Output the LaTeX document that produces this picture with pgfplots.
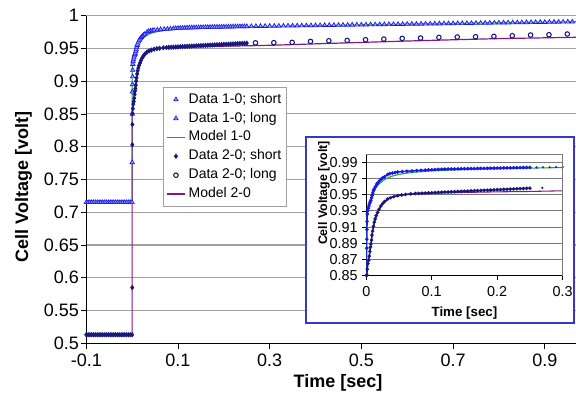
\documentclass[border=0pt]{standalone}
\usepackage{pgfplots}
\pgfplotsset{compat=1.18}
\usepackage{pgfplotstable}
\usepackage{fontspec}
\setmainfont{Liberation Sans}
\definecolor{dA}{RGB}{25,25,235}
\definecolor{dB}{RGB}{25,25,125}
\definecolor{mgreen}{RGB}{20,170,40}
\definecolor{mpurple}{RGB}{140,20,130}
\definecolor{frm}{RGB}{55,55,200}
\definecolor{gridc}{RGB}{160,160,160}
\definecolor{gridi}{RGB}{120,120,120}
\pgfplotsset{
  markleg/.style={legend image code/.code={\draw[##1] plot coordinates {(7pt,0pt)};}},
  gleg/.style={legend image code/.code={\draw[mgreen, line width=1.1pt] (0pt,0pt) -- (14pt,0pt);}},
  pleg/.style={legend image code/.code={\draw[mpurple, line width=1.1pt] (0pt,0pt) -- (14pt,0pt);}},
}

% Data 1-0; short
\pgfplotstableread{
t v
-0.100 0.715
-0.096 0.715
-0.092 0.715
-0.088 0.715
-0.084 0.715
-0.080 0.715
-0.076 0.715
-0.072 0.715
-0.068 0.715
-0.064 0.715
-0.060 0.715
-0.056 0.715
-0.052 0.715
-0.048 0.715
-0.044 0.715
-0.040 0.715
-0.036 0.715
-0.032 0.715
-0.028 0.715
-0.024 0.715
-0.020 0.715
-0.016 0.715
-0.012 0.715
-0.008 0.715
-0.004 0.715
0.0000 0.715
0.0002 0.776
0.0004 0.850
0.0006 0.884
0.0008 0.895
0.0010 0.907
0.0013 0.917
0.0016 0.926
0.0020 0.930
0.0030 0.933
0.0040 0.936
0.0050 0.939
0.0060 0.941
0.0070 0.943
0.0080 0.946
0.0090 0.949
0.0100 0.952
0.0110 0.955
0.0120 0.957
0.0140 0.960
0.0160 0.963
0.0180 0.965
0.0200 0.967
0.0224 0.969
0.0250 0.9705
0.0280 0.972
0.0326 0.975
0.0360 0.976
0.0400 0.9767
0.0440 0.9773
0.0480 0.978
0.0550 0.9785
0.0620 0.979
0.0700 0.9794
0.0770 0.9797
0.0835 0.980
0.0900 0.9803
0.0950 0.9806
0.1000 0.9808
0.1050 0.9810
0.1100 0.9812
0.1150 0.9814
0.1200 0.9816
0.1250 0.9817
0.1300 0.9817
0.1350 0.9818
0.1400 0.9819
0.1450 0.9820
0.1500 0.9821
0.1550 0.9821
0.1600 0.9822
0.1650 0.9823
0.1700 0.9824
0.1750 0.9825
0.1800 0.9825
0.1850 0.9826
0.1900 0.9827
0.1950 0.9828
0.2000 0.9829
0.2050 0.9829
0.2100 0.9830
0.2150 0.9831
0.2200 0.9832
0.2250 0.9833
0.2300 0.9833
0.2350 0.9834
0.2400 0.9835
0.2450 0.9835
0.2500 0.9836
}\dAshort

% Data 1-0; long
\pgfplotstableread{
t v
0.26 0.9837
0.27 0.9838
0.28 0.9839
0.29 0.9840
0.30 0.9841
0.31 0.9842
0.32 0.9843
0.33 0.9844
0.34 0.9845
0.35 0.9846
0.36 0.9847
0.37 0.9848
0.38 0.9849
0.39 0.9850
0.40 0.9851
0.41 0.9852
0.42 0.9853
0.43 0.9854
0.44 0.9855
0.45 0.9856
0.46 0.9857
0.47 0.9858
0.48 0.9859
0.49 0.9860
0.50 0.9861
0.51 0.9862
0.52 0.9863
0.53 0.9864
0.54 0.9865
0.55 0.9866
0.56 0.9867
0.57 0.9868
0.58 0.9869
0.59 0.9870
0.60 0.9871
0.61 0.9872
0.62 0.9873
0.63 0.9874
0.64 0.9875
0.65 0.9876
0.66 0.9877
0.67 0.9878
0.68 0.9879
0.69 0.9880
0.70 0.9881
0.71 0.9882
0.72 0.9883
0.73 0.9884
0.74 0.9885
0.75 0.9886
0.76 0.9887
0.77 0.9888
0.78 0.9889
0.79 0.9890
0.80 0.9891
0.81 0.9892
0.82 0.9893
0.83 0.9894
0.84 0.9895
0.85 0.9896
0.86 0.9897
0.87 0.9898
0.88 0.9899
0.89 0.9900
0.90 0.9901
0.91 0.9902
0.92 0.9903
0.93 0.9904
0.94 0.9905
0.95 0.9906
0.96 0.9907
0.97 0.9908
}\dAlong

% Model 1-0
\pgfplotstableread{
t v
-0.100 0.715
0.000 0.715
0.000 0.918
0.002 0.926
0.004 0.934
0.006 0.940
0.008 0.946
0.010 0.951
0.013 0.956
0.016 0.960
0.020 0.9635
0.025 0.967
0.030 0.9695
0.035 0.9715
0.040 0.973
0.050 0.975
0.070 0.9775
0.100 0.9795
0.150 0.981
0.200 0.982
0.250 0.9828
0.300 0.9835
0.400 0.9848
0.500 0.986
0.600 0.9872
0.700 0.9883
0.800 0.9893
0.900 0.9902
0.968 0.9907
}\mAtab

% Data 2-0; short
\pgfplotstableread{
t v
-0.100 0.513
-0.096 0.513
-0.092 0.513
-0.088 0.513
-0.084 0.513
-0.080 0.513
-0.076 0.513
-0.072 0.513
-0.068 0.513
-0.064 0.513
-0.060 0.513
-0.056 0.513
-0.052 0.513
-0.048 0.513
-0.044 0.513
-0.040 0.513
-0.036 0.513
-0.032 0.513
-0.028 0.513
-0.024 0.513
-0.020 0.513
-0.016 0.513
-0.012 0.513
-0.008 0.513
-0.004 0.513
0.0000 0.513
0.0002 0.585
0.0004 0.803
0.0006 0.834
0.0008 0.851
0.0015 0.858
0.0025 0.865
0.0035 0.869
0.0046 0.874
0.0055 0.880
0.0063 0.885
0.0071 0.889
0.0080 0.894
0.0088 0.900
0.0097 0.905
0.0110 0.911
0.0122 0.916
0.0135 0.920
0.0150 0.924
0.0173 0.928
0.0195 0.932
0.0224 0.936
0.0250 0.939
0.0280 0.9415
0.0326 0.9446
0.0370 0.9462
0.0420 0.9475
0.0480 0.9488
0.0540 0.9497
0.0600 0.9503
0.0680 0.9510
0.0750 0.9514
0.0800 0.9516
0.0850 0.9518
0.0900 0.9520
0.0950 0.9522
0.1000 0.9524
0.1050 0.9526
0.1100 0.9528
0.1150 0.9530
0.1200 0.9532
0.1250 0.9534
0.1300 0.9536
0.1350 0.9537
0.1400 0.9539
0.1450 0.9541
0.1500 0.9543
0.1550 0.9545
0.1600 0.9547
0.1650 0.9549
0.1700 0.9550
0.1750 0.9552
0.1800 0.9554
0.1850 0.9556
0.1900 0.9558
0.1950 0.9560
0.2000 0.9562
0.2050 0.9563
0.2100 0.9565
0.2150 0.9567
0.2200 0.9569
0.2250 0.9571
0.2300 0.9573
0.2350 0.9575
0.2400 0.9576
0.2450 0.9578
0.2500 0.9580
}\dBshort

% Data 2-0; long
\pgfplotstableread{
t v
0.269 0.9585
0.309 0.9588
0.349 0.9592
0.389 0.9607
0.429 0.9617
0.469 0.9622
0.509 0.9633
0.549 0.9643
0.589 0.9653
0.629 0.9659
0.669 0.9668
0.709 0.9674
0.749 0.9679
0.789 0.9684
0.829 0.9694
0.869 0.9705
0.909 0.9709
0.949 0.9720
}\dBlong

% Model 2-0
\pgfplotstableread{
t v
-0.100 0.513
0.000 0.513
0.000 0.851
0.001 0.857
0.002 0.862
0.003 0.867
0.0046 0.874
0.0071 0.889
0.0097 0.905
0.0122 0.9155
0.0150 0.923
0.0173 0.928
0.0224 0.936
0.0280 0.941
0.0326 0.9445
0.040 0.947
0.048 0.9488
0.060 0.950
0.080 0.951
0.100 0.9518
0.150 0.9528
0.200 0.9535
0.250 0.954
0.300 0.9548
0.320 0.9552
0.400 0.957
0.500 0.9592
0.600 0.9613
0.700 0.9632
0.800 0.9650
0.900 0.9662
0.968 0.9670
}\mBtab

\begin{document}
\begin{tikzpicture}
\useasboundingbox (0,0) rectangle (432pt,294.75pt);
\begin{axis}[
  at={(64.7pt,37.3pt)}, anchor=south west,
  scale only axis, width=367.3pt, height=245.7pt,
  xmin=-0.1, xmax=0.968, ymin=0.5, ymax=1,
  axis x line*=bottom, axis y line*=left,
  axis line style={black, line width=0.8pt, -},
  xtick={-0.1,0.1,0.3,0.5,0.7,0.9},
  xticklabels={-0.1,0.1,0.3,0.5,0.7,0.9},
  ytick={0.5,0.55,0.6,0.65,0.7,0.75,0.8,0.85,0.9,0.95,1},
  yticklabels={0.5,0.55,0.6,0.65,0.7,0.75,0.8,0.85,0.9,0.95,1},
  tick align=outside, major tick length=4pt,
  tick style={black, line width=0.6pt},
  ymajorgrids, grid style={gridc, line width=0.8pt},
  ticklabel style={font=\fontsize{13.5}{16}\selectfont},
  xticklabel style={yshift=-3pt, inner sep=1pt},
  yticklabel style={xshift=2pt},
  xlabel={Time [sec]}, ylabel={Cell Voltage [volt]},
  label style={font=\bfseries\fontsize{13.5}{16}\selectfont},
  xlabel style={at={(axis description cs:0.514,-0.12)}, anchor=center, inner sep=1pt},
  ylabel style={at={(axis description cs:-0.128,0.478)}, anchor=center},
  legend cell align=left,
  legend style={at={(axis description cs:0.1566,0.782)}, anchor=north west,
    draw=gridc, fill=white, font=\fontsize{10.5}{12}\selectfont,
    row sep=0pt, inner sep=2pt,
    nodes={inner sep=2pt, text height=7.8pt, text depth=2.4pt}},
]
\addplot[mgreen, line width=0.9pt, no markers, forget plot] table {\mAtab};
\addplot[mpurple, line width=0.9pt, no markers, forget plot] table {\mBtab};
\addplot[dA, only marks, mark=triangle*, mark size=1.9pt, mark options={line width=0.5pt, draw=dA, fill=dA!40}, markleg] table {\dAshort};
\addlegendentry{Data 1-0; short}
\addplot[dA, only marks, mark=triangle*, mark size=1.9pt, mark options={line width=0.5pt, draw=dA, fill=dA!40}, markleg] table {\dAlong};
\addlegendentry{Data 1-0; long}
\addlegendimage{gleg}
\addlegendentry{Model 1-0}
\addplot[dB, only marks, mark=diamond*, mark size=1.7pt, markleg] table {\dBshort};
\addlegendentry{Data 2-0; short}
\addplot[dB, only marks, mark=o, mark size=1.7pt, mark options={line width=0.8pt}, markleg] table {\dBlong};
\addlegendentry{Data 2-0; long}
\addlegendimage{pleg}
\addlegendentry{Model 2-0}
\end{axis}

\draw[frm, line width=1.1pt, fill=white] (229.5pt,52.5pt) rectangle (430.5pt,192pt);

\begin{axis}[
  at={(274.7pt,88pt)}, anchor=south west,
  scale only axis, width=147.3pt, height=91.1pt,
  xmin=0, xmax=0.3, ymin=0.85, ymax=1.0,
  axis x line*=bottom, axis y line*=left,
  axis line style={black, line width=0.6pt, -},
  xtick={0,0.1,0.2,0.3}, xticklabels={0,0.1,0.2,0.3},
  ytick={0.85,0.87,0.89,0.91,0.93,0.95,0.97,0.99},
  yticklabels={0.85,0.87,0.89,0.91,0.93,0.95,0.97,0.99},
  tick align=outside, major tick length=3pt,
  tick style={black, line width=0.5pt},
  ymajorgrids, grid style={gridi, line width=0.7pt},
  ticklabel style={font=\fontsize{10.8}{13}\selectfont},
  xticklabel style={yshift=-4pt, inner sep=1pt},
  xlabel={Time [sec]}, ylabel={Cell Voltage [volt]},
  xlabel style={font=\bfseries\fontsize{10}{12}\selectfont, at={(axis description cs:0.5,-0.31)}, anchor=center, inner sep=1pt},
  ylabel style={font=\bfseries\fontsize{9.3}{11}\selectfont, at={(axis description cs:-0.215,0.68)}, anchor=center},
  extra description/.code={\draw[gridi, line width=0.7pt] (rel axis cs:0,1) -- (rel axis cs:1,1) -- (rel axis cs:1,0);},
]
\addplot[mgreen, line width=0.8pt, no markers] table {\mAtab};
\addplot[mpurple, line width=0.8pt, no markers] table {\mBtab};
\addplot[dA, mark=*, mark size=0.7pt, line width=1.1pt] table {\dAshort};
\addplot[dA, only marks, mark=*, mark size=0.6pt] table {\dAlong};
\addplot[dB, mark=*, mark size=0.7pt, line width=1.1pt] table {\dBshort};
\addplot[dB, only marks, mark=*, mark size=0.6pt] table {\dBlong};
\end{axis}
\end{tikzpicture}
\end{document}
